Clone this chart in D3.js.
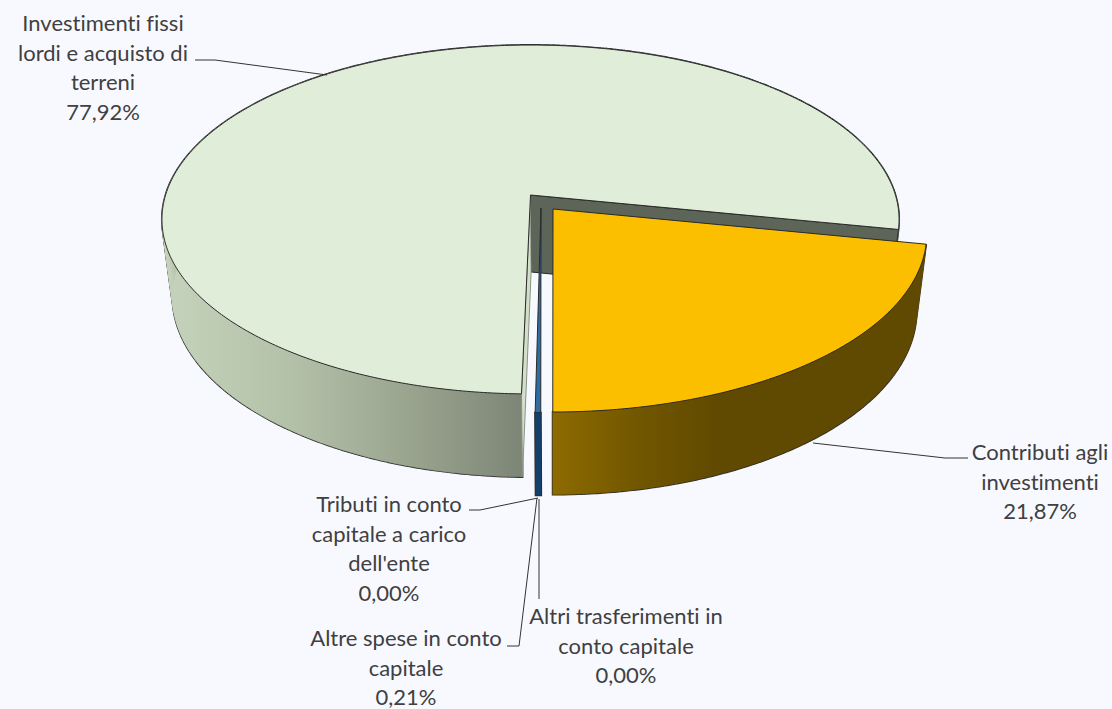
<!DOCTYPE html>
<html>
<head>
<meta charset="utf-8">
<script src="https://cdnjs.cloudflare.com/ajax/libs/d3/7.8.5/d3.min.js"></script>
<style>
	html, body { margin: 0; padding: 0; background: #f8f9ff; }
	svg { display: block; }
	text { font-family: Lato, "Open Sans", sans-serif; font-size: 22px; fill: #404040; text-anchor: middle; font-variant-ligatures: none; }
</style>
</head>
<body>
<svg width="1112" height="709"></svg>
<script>
// slices in drawing order round the pie, clockwise
var categories = [
	"Contributi agli investimenti",
	"Altri trasferimenti in conto capitale",
	"Altre spese in conto capitale",
	"Tributi in conto capitale a carico dell'ente",
	"Investimenti fissi lordi e acquisto di terreni"
];
var values = [21.87, 0.00, 0.21, 0.00, 77.92];
var percentLabels = ["21,87%", "0,00%", "0,21%", "0,00%", "77,92%"];

// wrapped label text, same order as categories
var labelLines = [
	["Contributi agli", "investimenti"],
	["Altri trasferimenti in", "conto capitale"],
	["Altre spese in conto", "capitale"],
	["Tributi in conto", "capitale a carico", "dell'ente"],
	["Investimenti fissi", "lordi e acquisto di", "terreni"]
];

// layout only from here down
var labelPos = [[1040, 460], [626, 624], [406, 646], [389, 512], [103, 31]];
var leaders = [
	[[813, 443], [945, 458], [968, 458]],
	[[539, 499], [539, 599]],
	[[537, 498], [519, 646], [507, 646]],
	[[538, 498], [480, 510], [469, 510]],
	[[327, 75], [215, 60], [195, 60]]
];
// exploded centre and radii of each slice on the top plane
var sliceGeom = [
	{cx: 553, cy: 209, a: 370, b: 174.5, pad: 0},
	{cx: 541, cy: 208, a: 366, b: 176, pad: 0},
	{cx: 541, cy: 208, a: 366, b: 176, pad: 0},
	{cx: 541, cy: 208, a: 366, b: 176, pad: 0},
	{cx: 530.5, cy: 195, a: 364.9, b: 171, pad: 0.0075}
];

var svg = d3.select("svg");

var k = 0.1404,         // perspective of the top plane
	depth = 0.0273,     // pie thickness
	nadirX = 553,
	nadirY = 3092;

// t is clockwise from the top, h is 0 on top of the pie and 1 at the bottom
var project = function(g, r, t, h) {
	var u = r * Math.sin(t),
		v = -r * Math.cos(t),
		w = 1 - k * v,
		e = depth * h;
	return [
		(g.cx * w + g.a * u + e * nadirX) / (w + e),
		(g.cy * w + g.b * v + e * nadirY) / (w + e)
	];
};

var arcPoints = function(g, t0, t1, h) {
	var n = Math.max(2, Math.ceil((t1 - t0) / 0.01));
	return d3.range(n + 1).map(function(i) {
		return project(g, 1, t0 + (t1 - t0) * i / n, h);
	});
};

var line = d3.line();
var close = function(pts) { return line(pts) + "Z"; };

var pie = d3.pie().sort(null)
	.startAngle(101.3 * Math.PI / 180)
	.endAngle((101.3 + 360) * Math.PI / 180);
var slices = pie(values);

var defs = svg.append("defs");
var addGradient = function(id, x1, x2, stops) {
	var grad = defs.append("linearGradient").attr("id", id)
		.attr("gradientUnits", "userSpaceOnUse")
		.attr("x1", x1).attr("x2", x2).attr("y1", 0).attr("y2", 0);
	stops.forEach(function(s) {
		grad.append("stop").attr("offset", s[0]).attr("stop-color", s[1]);
	});
};
addGradient("sideBig", 165, 522, [[0, "#c6d3bc"], [0.35, "#b4c1a9"], [0.7, "#98a38e"], [1, "#7d8676"]]);
addGradient("sideGold", 553, 720, [[0, "#8d6b00"], [0.55, "#705500"], [1, "#604900"]]);

var styles = [
	{top: "#fcbf00", side: "url(#sideGold)"},
	{top: "#2e6ca4", side: "#14406a"},
	{top: "#2e6ca4", side: "#14406a"},
	{top: "#2e6ca4", side: "#14406a"},
	{top: "#e0edd8", side: "url(#sideBig)"}
];

var drawSlice = function(i) {
	var s = slices[i], g = sliceGeom[i], st = styles[i];
	if (s.endAngle - s.startAngle < 1e-6) return;
	var t0 = s.startAngle + g.pad,
		t1 = s.endAngle,
		apexTop = project(g, 0, 0, 0),
		apexBot = project(g, 0, 0, 1);

	var topArc = arcPoints(g, t0, t1, 0),
		botArc = arcPoints(g, t0, t1, 1);

	// outer side as small quads: a wide stroked pass leaves only the outline, then the fill on top
	var quads = d3.pairs(d3.range(topArc.length)).map(function(p) {
		return close([topArc[p[0]], topArc[p[1]], botArc[p[1]], botArc[p[0]]]);
	}).join("");
	svg.append("path").attr("d", quads)
		.attr("fill", "none").attr("stroke", "#2a2a2a").attr("stroke-width", 2);
	svg.append("path").attr("d", quads)
		.attr("fill", st.side).attr("stroke", st.side).attr("stroke-width", 0.4);

	// cut walls of the big slice
	if (i === 4) {
		svg.append("path").attr("d", close([apexTop, apexBot, botArc[botArc.length - 1], topArc[topArc.length - 1]]))
			.attr("fill", "#5d6458").attr("stroke", "#2a2a2a");
		svg.append("path").attr("d", close([apexTop, apexBot, botArc[0], topArc[0]]))
			.attr("fill", "#d3dfca").attr("stroke", "#8a9284");
	}

	svg.append("path").attr("d", close([apexTop].concat(topArc)))
		.attr("fill", st.top).attr("stroke", "#2a2a2a").attr("stroke-width", 1);
};

drawSlice(4);
drawSlice(2);
drawSlice(0);

// leader lines
svg.selectAll(".leader").data(leaders).enter().append("path")
	.attr("class", "leader")
	.attr("d", function(d) { return line(d); })
	.attr("fill", "none")
	.attr("stroke", "#333")
	.attr("stroke-width", 1);

// labels
var label = svg.selectAll(".label").data(categories).enter().append("text")
	.attr("class", "label")
	.attr("transform", function(d, i) { return "translate(" + labelPos[i] + ")"; });

label.selectAll("tspan")
	.data(function(d, i) { return labelLines[i].concat(percentLabels[i]); })
	.enter().append("tspan")
	.attr("x", 0)
	.attr("y", function(d, i) { return i * 29.5; })
	.text(function(d) { return d; });
</script>
</body>
</html>
